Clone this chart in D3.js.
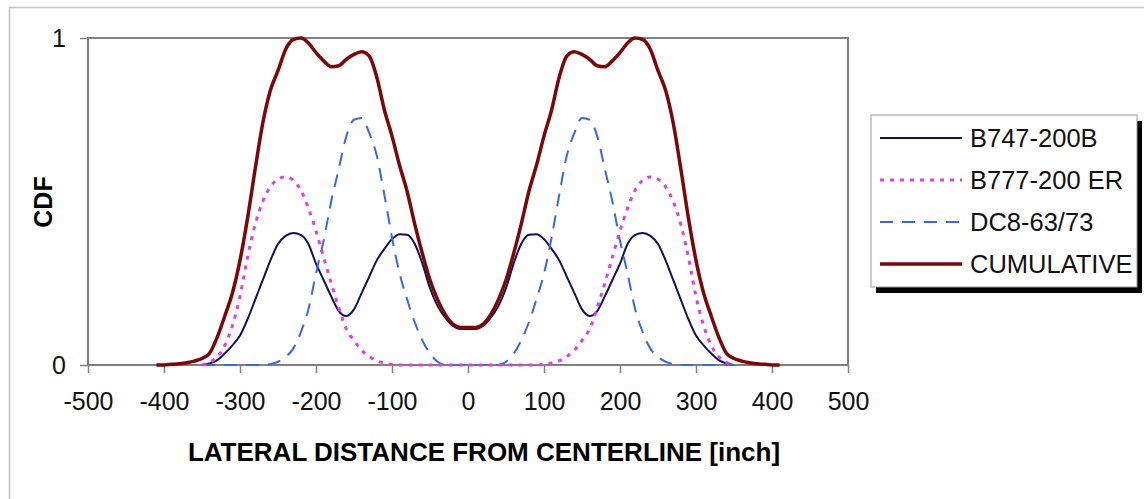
<!DOCTYPE html>
<html>
<head>
<meta charset="utf-8">
<script src="https://cdn.jsdelivr.net/npm/d3@7"></script>
<style>
  body { margin: 0; background: #fff; }
  svg { display: block; font-family: "Liberation Sans", Arial, sans-serif; }
</style>
</head>
<body>
<div id="viz"></div>
<script>
// lateral positions [inch]
var lateralCum = [-410, -400, -390, -380, -370, -360, -350, -340, -330, -320, -310, -300, -290, -280, -270, -260, -250, -240, -230, -220, -210, -200, -190, -180, -170, -160, -150, -140, -130, -120, -110, -100, -90, -80, -70, -60, -50, -40, -30, -20, -10, 0,
  10, 20, 30, 40, 50, 60, 70, 80, 90, 100, 110, 120, 130, 140, 150, 160, 170, 180, 190, 200, 210, 220, 230, 240, 250, 260, 270, 280, 290, 300, 310, 320, 330, 340, 350, 360, 370, 380, 390, 400, 410];
var lateralGear = [-350, -340, -330, -320, -310, -300, -290, -280, -270, -260, -250, -240, -230, -220, -210, -200, -190, -180, -170, -160, -150, -140, -130, -120, -110, -100, -90, -80, -70, -60, -50, -40, -30, -20, -10, 0,
  10, 20, 30, 40, 50, 60, 70, 80, 90, 100, 110, 120, 130, 140, 150, 160, 170, 180, 190, 200, 210, 220, 230, 240, 250, 260, 270, 280, 290, 300, 310, 320, 330, 340, 350];

// CDF values
var b747 = [0, 0.005, 0.015, 0.035, 0.06, 0.09, 0.14, 0.2, 0.26, 0.32, 0.37, 0.395, 0.404, 0.398, 0.37, 0.31, 0.26, 0.21, 0.165, 0.15, 0.17, 0.22, 0.27, 0.32, 0.355, 0.385, 0.40, 0.398, 0.37, 0.31, 0.235, 0.18, 0.145, 0.12, 0.11, 0.11,
  0.11, 0.12, 0.145, 0.18, 0.235, 0.31, 0.37, 0.398, 0.40, 0.385, 0.355, 0.32, 0.27, 0.22, 0.17, 0.15, 0.165, 0.21, 0.26, 0.31, 0.37, 0.398, 0.404, 0.395, 0.37, 0.32, 0.26, 0.2, 0.14, 0.09, 0.06, 0.035, 0.015, 0.005, 0];
var b777 = [0, 0.008, 0.025, 0.06, 0.12, 0.21, 0.33, 0.43, 0.5, 0.545, 0.568, 0.575, 0.565, 0.535, 0.48, 0.41, 0.33, 0.25, 0.175, 0.11, 0.075, 0.045, 0.026, 0.013, 0.006, 0.002, 0, 0, 0, 0, 0, 0, 0, 0, 0, 0,
  0, 0, 0, 0, 0, 0, 0, 0, 0, 0.002, 0.006, 0.013, 0.026, 0.045, 0.075, 0.11, 0.175, 0.25, 0.33, 0.41, 0.48, 0.535, 0.565, 0.575, 0.568, 0.545, 0.5, 0.43, 0.33, 0.21, 0.12, 0.06, 0.025, 0.008, 0];
var dc8 = [0, 0, 0, 0, 0, 0, 0, 0, 0, 0.003, 0.01, 0.025, 0.05, 0.1, 0.17, 0.28, 0.38, 0.5, 0.6, 0.7, 0.75, 0.755, 0.71, 0.64, 0.52, 0.39, 0.28, 0.2, 0.13, 0.075, 0.035, 0.01, 0, 0, 0, 0,
  0, 0, 0, 0, 0.01, 0.035, 0.075, 0.13, 0.2, 0.28, 0.39, 0.52, 0.64, 0.71, 0.755, 0.75, 0.7, 0.6, 0.5, 0.38, 0.28, 0.17, 0.1, 0.05, 0.025, 0.01, 0.003, 0, 0, 0, 0, 0, 0, 0, 0];
var cumulative = [0, 0, 0.002, 0.004, 0.007, 0.012, 0.02, 0.036, 0.085, 0.15, 0.22, 0.32, 0.45, 0.6, 0.74, 0.84, 0.9, 0.965, 0.995, 1.0, 0.985, 0.955, 0.93, 0.912, 0.915, 0.935, 0.95, 0.958, 0.945, 0.88, 0.78, 0.70, 0.61, 0.53, 0.43, 0.34, 0.26, 0.2, 0.155, 0.125, 0.115, 0.115,
  0.115, 0.125, 0.155, 0.2, 0.26, 0.34, 0.43, 0.53, 0.61, 0.70, 0.78, 0.88, 0.945, 0.958, 0.95, 0.935, 0.915, 0.912, 0.93, 0.955, 0.985, 1.0, 0.995, 0.965, 0.9, 0.84, 0.74, 0.6, 0.45, 0.32, 0.22, 0.15, 0.085, 0.036, 0.02, 0.012, 0.007, 0.004, 0.002, 0, 0];

var xTicks = [-500, -400, -300, -200, -100, 0, 100, 200, 300, 400, 500];
var yTicks = [0, 1];
var seriesNames = ['B747-200B', 'B777-200 ER', 'DC8-63/73', 'CUMULATIVE'];

var width = 1144, height = 499;
var plot = {left: 88, right: 848, top: 38, bottom: 365};

var svg = d3.select('#viz').append('svg')
  .attr('width', width)
  .attr('height', height);

// outer chart border (right/bottom edges fall outside the picture)
svg.append('rect')
  .attr('x', 9.5).attr('y', 7.5)
  .attr('width', 1160).attr('height', 520)
  .style('fill', 'none')
  .style('stroke', '#c4c4c4')
  .style('stroke-width', 1.5);

var x = d3.scaleLinear().domain([-500, 500]).range([plot.left, plot.right]);
var y = d3.scaleLinear().domain([0, 1]).range([plot.bottom, plot.top]);

// plain hyphen minus, like the original
var plainFormat = function(d) { return String(d); };

// axes
var xAxis = svg.append('g')
  .attr('transform', 'translate(0,' + plot.bottom + ')')
  .call(d3.axisBottom(x).tickValues(xTicks).tickFormat(plainFormat).tickSize(8).tickPadding(19));
var yAxis = svg.append('g')
  .attr('transform', 'translate(' + plot.left + ',0)')
  .call(d3.axisLeft(y).tickValues(yTicks).tickFormat(plainFormat).tickSize(8).tickPadding(14));

[xAxis, yAxis].forEach(function(g) {
  g.select('.domain').remove();
  g.selectAll('.tick line').style('stroke', '#808080').style('stroke-width', 1.5);
  g.selectAll('.tick text')
    .style('font-family', '"Liberation Sans", Arial, sans-serif')
    .style('font-size', '25px')
    .style('fill', '#111');
});

// plot frame
svg.append('rect')
  .attr('x', plot.left).attr('y', plot.top)
  .attr('width', plot.right - plot.left).attr('height', plot.bottom - plot.top)
  .style('fill', 'none')
  .style('stroke', '#808080')
  .style('stroke-width', 2);

// series
var series = [
  {name: seriesNames[0], xs: lateralGear, ys: b747, color: '#10105a', width: 2, dash: null},
  {name: seriesNames[2], xs: lateralGear, ys: dc8, color: '#3a6ad8', width: 2, dash: '13,9'},
  {name: seriesNames[1], xs: lateralGear, ys: b777, color: '#e040e0', width: 3, dash: '4,6'},
  {name: seriesNames[3], xs: lateralCum, ys: cumulative, color: '#7a0808', width: 3.5, dash: null}
];

var line = d3.line()
  .x(function(d) { return x(d[0]); })
  .y(function(d) { return y(d[1]); })
  .curve(d3.curveMonotoneX);

series.forEach(function(s) {
  svg.append('path')
    .datum(d3.zip(s.xs, s.ys))
    .attr('d', line)
    .style('fill', 'none')
    .style('stroke', s.color)
    .style('stroke-width', s.width)
    .style('stroke-dasharray', s.dash)
    .style('stroke-linejoin', 'round');
});

// axis titles
svg.append('text')
  .attr('x', 484).attr('y', 461)
  .attr('text-anchor', 'middle')
  .style('font-size', '26px')
  .style('font-weight', 'bold')
  .text('LATERAL DISTANCE FROM CENTERLINE [inch]');

svg.append('text')
  .attr('transform', 'translate(52,202) rotate(-90)')
  .attr('text-anchor', 'middle')
  .style('font-size', '25px')
  .style('font-weight', 'bold')
  .text('CDF');

// legend with drop shadow
var legend = {x: 871, y: 115, w: 266, h: 172};
svg.append('rect')
  .attr('x', legend.x + 5).attr('y', legend.y + 6)
  .attr('width', legend.w).attr('height', legend.h)
  .style('fill', '#000');
svg.append('rect')
  .attr('x', legend.x).attr('y', legend.y)
  .attr('width', legend.w).attr('height', legend.h)
  .style('fill', '#fff')
  .style('stroke', '#9a9a9a')
  .style('stroke-width', 1);

var legendOrder = [series[0], series[2], series[1], series[3]];
legendOrder.forEach(function(s, i) {
  var ly = legend.y + 23 + i * 42;
  svg.append('line')
    .attr('x1', 880).attr('x2', 962)
    .attr('y1', ly).attr('y2', ly)
    .style('stroke', s.color)
    .style('stroke-width', s.width)
    .style('stroke-dasharray', s.dash);
  svg.append('text')
    .attr('x', 970).attr('y', ly)
    .attr('dy', '0.35em')
    .style('font-size', '25.5px')
    .style('fill', '#111')
    .text(s.name);
});
</script>
</body>
</html>
